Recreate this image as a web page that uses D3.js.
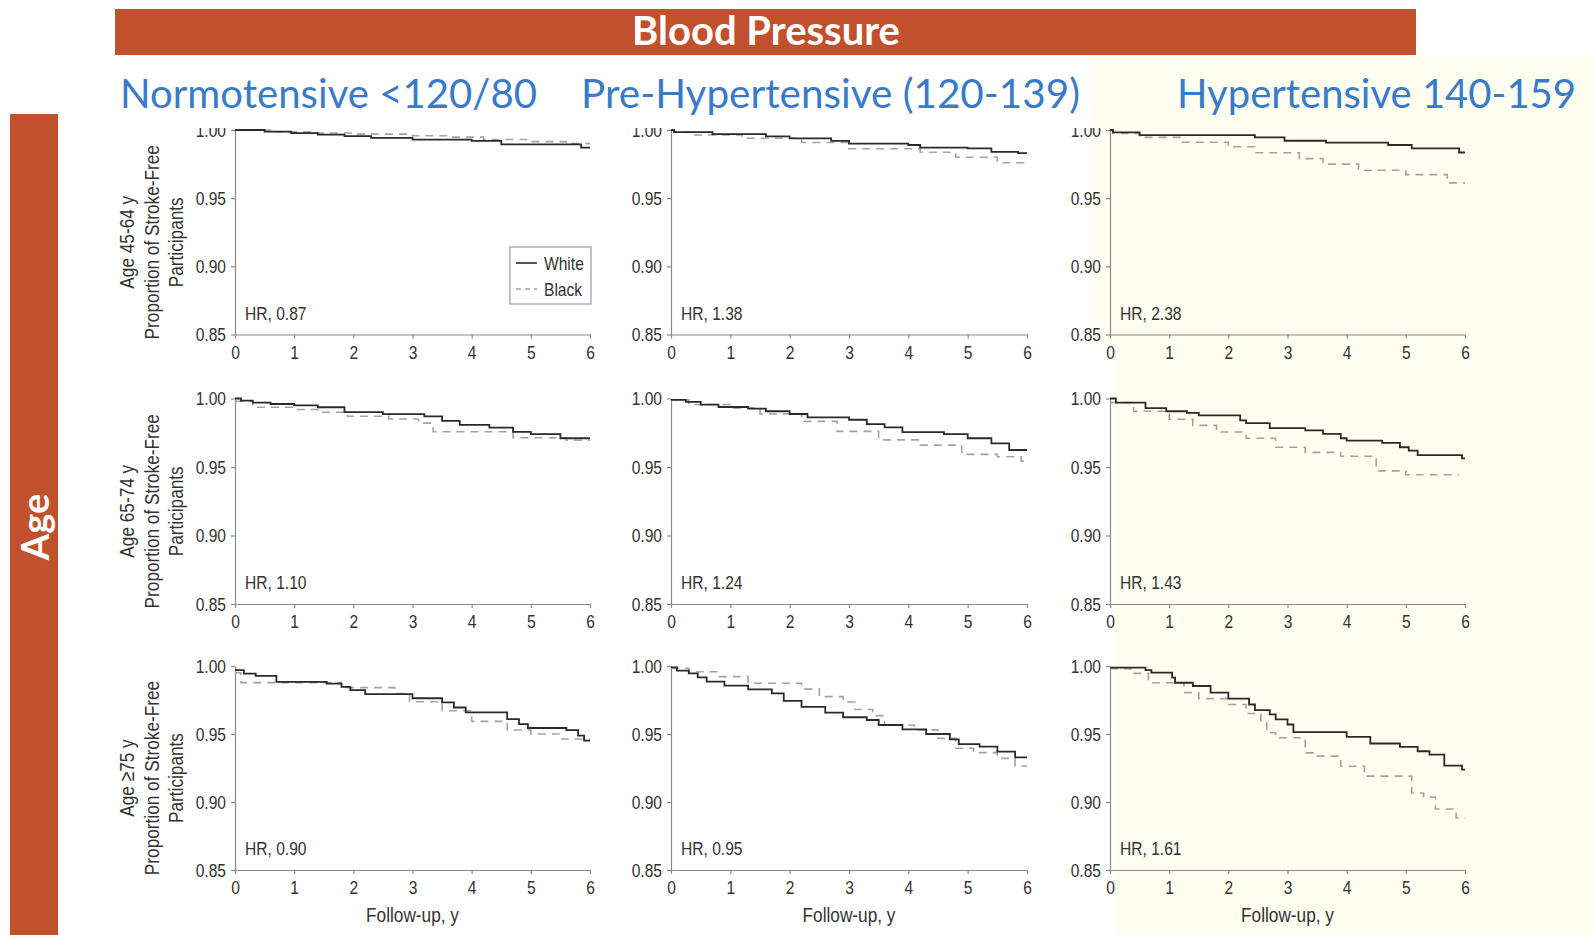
<!DOCTYPE html>
<html><head><meta charset="utf-8">
<script src="https://cdn.jsdelivr.net/npm/d3@7"></script>
<style>body{margin:0;background:#fff}svg{display:block}</style>
</head><body>
<svg id="c" width="1594" height="935"></svg>
<script>
// ---------- data ----------
const bannerTitle = "Blood Pressure";
const sideTitle = "Age";
const columns = ["Normotensive <120/80", "Pre-Hypertensive (120-139)", "Hypertensive 140-159"];
const rowLabels = ["Age 45-64 y", "Age 65-74 y", "Age \u226575 y"];
const yTitleLines = ["Proportion of Stroke-Free", "Participants"];
const xTitle = "Follow-up, y";
const hrLabels = [["HR, 0.87", "HR, 1.38", "HR, 2.38"],
                  ["HR, 1.10", "HR, 1.24", "HR, 1.43"],
                  ["HR, 0.90", "HR, 0.95", "HR, 1.61"]];
const seriesNames = ["White", "Black"];
const yTicks = [0.85, 0.90, 0.95, 1.00];
const xTicks = [0, 1, 2, 3, 4, 5, 6];

// Kaplan-Meier steps: [follow-up year, proportion stroke-free]
const white_45_norm = [[0,1.0],[0.5,0.9988],[0.95,0.9977],[1.4,0.9966],[1.85,0.9955],[2.3,0.9942],[3.0,0.993],[4.0,0.992],[4.5,0.9895],[5.85,0.987],[6,0.987]];
const black_45_norm = [[0,1.0],[0.6,0.9986],[1.3,0.9978],[2.0,0.997],[3.0,0.9958],[3.6,0.9948],[4.2,0.993],[5.0,0.9915],[5.6,0.990],[6,0.990]];
const white_45_pre = [[0,1.0],[0.05,0.9985],[0.7,0.997],[1.6,0.9953],[2.0,0.9938],[2.7,0.992],[3.0,0.990],[4.0,0.989],[4.2,0.987],[5.0,0.9865],[5.4,0.984],[5.85,0.983],[6,0.983]];
const black_45_pre = [[0,1.0],[0.05,0.9985],[0.35,0.9963],[1.2,0.994],[2.2,0.9908],[3.0,0.9862],[4.2,0.9837],[4.8,0.980],[5.5,0.976],[6,0.976]];
const white_45_hyp = [[0,1.0],[0.05,0.9983],[0.5,0.9963],[2.45,0.9946],[2.95,0.9921],[3.65,0.9907],[4.7,0.989],[5.1,0.9865],[5.9,0.9835],[6,0.9835]];
const black_45_hyp = [[0,1.0],[0.05,0.9975],[0.5,0.9946],[1.2,0.991],[2.0,0.9877],[2.45,0.9833],[3.2,0.979],[3.6,0.975],[4.2,0.9705],[5.0,0.9673],[5.7,0.9612],[6,0.9612]];
const white_65_norm = [[0,1.0],[0.1,0.9985],[0.3,0.997],[0.6,0.996],[1.0,0.995],[1.4,0.9936],[1.85,0.990],[2.5,0.9886],[3.2,0.987],[3.5,0.9837],[3.8,0.9807],[4.3,0.9787],[4.7,0.9757],[5.0,0.974],[5.5,0.971],[6,0.971]];
const black_65_norm = [[0,0.998],[0.3,0.9936],[1.0,0.992],[1.4,0.990],[1.9,0.987],[2.6,0.985],[3.1,0.982],[3.35,0.9757],[4.7,0.9713],[5.6,0.9695],[6,0.9695]];
const white_65_pre = [[0,0.999],[0.25,0.9975],[0.5,0.9956],[0.8,0.9938],[1.3,0.9926],[1.6,0.9907],[2.0,0.9887],[2.3,0.9862],[3.0,0.9845],[3.3,0.9813],[3.6,0.9789],[3.9,0.9755],[4.6,0.974],[5.0,0.971],[5.4,0.9673],[5.7,0.9624],[6,0.9624]];
const black_65_pre = [[0,0.999],[0.3,0.9956],[1.0,0.993],[1.5,0.9887],[2.2,0.9833],[2.8,0.976],[3.5,0.9698],[4.2,0.966],[4.9,0.9592],[5.5,0.9575],[5.9,0.9543],[6,0.9543]];
const white_65_hyp = [[0,1.0],[0.1,0.997],[0.6,0.993],[0.95,0.9907],[1.3,0.9895],[1.5,0.9877],[2.2,0.984],[2.3,0.982],[2.7,0.9784],[3.3,0.9767],[3.6,0.9742],[3.9,0.971],[4.0,0.9693],[4.6,0.9676],[4.9,0.9644],[5.05,0.962],[5.2,0.9587],[5.95,0.9563],[6,0.9563]];
const black_65_hyp = [[0,0.997],[0.4,0.9907],[1.0,0.9848],[1.4,0.9804],[1.8,0.9755],[2.3,0.971],[2.8,0.9644],[3.3,0.9607],[3.9,0.9578],[4.5,0.9472],[5.0,0.9443],[5.9,0.9443]];
const white_75_norm = [[0,0.997],[0.15,0.9944],[0.35,0.9927],[0.7,0.9883],[1.55,0.9871],[1.8,0.9846],[1.95,0.9822],[2.2,0.9793],[3.0,0.9763],[3.5,0.9732],[3.7,0.9695],[3.9,0.9659],[4.6,0.961],[4.8,0.9573],[4.95,0.9544],[5.6,0.9529],[5.8,0.9488],[5.9,0.9451],[6,0.9451]];
const black_75_norm = [[0,0.995],[0.1,0.9878],[1.8,0.9841],[2.7,0.9798],[2.95,0.9737],[3.5,0.9671],[4.0,0.9593],[4.6,0.9529],[5.0,0.950],[5.5,0.9463],[6,0.9463]];
const white_75_pre = [[0,0.999],[0.1,0.9966],[0.3,0.9946],[0.45,0.9917],[0.6,0.9885],[0.9,0.9855],[1.3,0.9828],[1.7,0.9799],[1.9,0.9743],[2.2,0.970],[2.6,0.9657],[2.9,0.9623],[3.3,0.9603],[3.5,0.9566],[3.9,0.9534],[4.3,0.950],[4.7,0.9461],[4.85,0.9426],[5.2,0.9407],[5.5,0.937],[5.8,0.9328],[6,0.9328]];
const black_75_pre = [[0,0.9983],[0.3,0.9958],[0.8,0.9922],[1.3,0.9873],[2.2,0.983],[2.5,0.9775],[2.9,0.9735],[3.1,0.968],[3.4,0.9635],[3.6,0.9566],[4.1,0.953],[4.5,0.9468],[4.8,0.9395],[5.1,0.9363],[5.5,0.9321],[5.8,0.9265],[6,0.9265]];
const white_75_hyp = [[0,0.9988],[0.6,0.997],[0.7,0.9951],[1.05,0.9914],[1.1,0.9877],[1.4,0.9853],[1.7,0.9804],[2.0,0.976],[2.35,0.9717],[2.45,0.9676],[2.7,0.9644],[2.8,0.9607],[3.0,0.957],[3.1,0.9514],[4.0,0.9479],[4.4,0.943],[4.9,0.9405],[5.2,0.9373],[5.4,0.9349],[5.65,0.9268],[5.95,0.9238],[6,0.9238]];
const black_75_hyp = [[0,0.998],[0.35,0.9946],[0.65,0.9877],[1.25,0.9804],[1.5,0.976],[2.0,0.9717],[2.3,0.9651],[2.55,0.9582],[2.65,0.9509],[2.8,0.9472],[3.3,0.9361],[3.5,0.9337],[3.9,0.9263],[4.3,0.919],[5.1,0.9066],[5.3,0.9037],[5.5,0.8948],[5.85,0.8882],[6,0.8882]];

const whiteSeries = [[white_45_norm, white_45_pre, white_45_hyp],
                     [white_65_norm, white_65_pre, white_65_hyp],
                     [white_75_norm, white_75_pre, white_75_hyp]];
const blackSeries = [[black_45_norm, black_45_pre, black_45_hyp],
                     [black_65_norm, black_65_pre, black_65_hyp],
                     [black_75_norm, black_75_pre, black_75_hyp]];

// ---------- layout ----------
const colX = [[235, 590], [671, 1027], [1110, 1465]];
const rowY = [[130, 334.5], [398.5, 604], [666, 870]];
const ORANGE = "#C1512C", BLUE = "#3A7BC8", CREAM = "#FDFDF0";
const AX = "'Liberation Sans',Arial,sans-serif";
const HEAD = "Lato,'Open Sans',sans-serif";
const NARROW = 0.82;

// condense a text selection horizontally (emulates a narrow face)
function condense(sel) {
  sel.each(function () {
    const len = this.getComputedTextLength();
    d3.select(this).attr("textLength", len * NARROW).attr("lengthAdjust", "spacingAndGlyphs");
  });
}

const svg = d3.select("#c");
svg.append("rect").attr("width", 1594).attr("height", 935).attr("fill", "#fff");
svg.append("path").attr("fill", CREAM).attr("d", "M1090,57H1594V935H1114V345H1090Z");

const stepLine = (x, y) => d3.line().x(d => x(d[0])).y(d => y(d[1])).curve(d3.curveStepAfter);

for (let r = 0; r < 3; r++) {
  for (let c = 0; c < 3; c++) {
    const x = d3.scaleLinear().domain([0, 6]).range(colX[c]);
    const y = d3.scaleLinear().domain([0.85, 1.0]).range([rowY[r][1], rowY[r][0]]);
    const g = svg.append("g");

    const ya = g.append("g").attr("transform", `translate(${colX[c][0]},0)`)
      .call(d3.axisLeft(y).tickValues(yTicks).tickFormat(d3.format(".2f")).tickSize(4).tickSizeOuter(0).tickPadding(5));
    const xa = g.append("g").attr("transform", `translate(0,${rowY[r][1]})`)
      .call(d3.axisBottom(x).tickValues(xTicks).tickFormat(d3.format("d")).tickSize(4).tickSizeOuter(0).tickPadding(7));
    [ya, xa].forEach(a => {
      a.select(".domain").attr("stroke", "#8a8a8a").attr("stroke-width", 1.2);
      a.selectAll(".tick line").attr("stroke", "#8a8a8a").attr("stroke-width", 1.2);
      a.selectAll(".tick text").attr("fill", "#333").style("font-family", AX).style("font-size", "19px");
      condense(a.selectAll(".tick text"));
    });

    g.append("path").datum(blackSeries[r][c]).attr("d", stepLine(x, y))
      .attr("fill", "none").attr("stroke", "#a3a3a3").attr("stroke-width", 1.6).attr("stroke-dasharray", "8,6");
    g.append("path").datum(whiteSeries[r][c]).attr("d", stepLine(x, y))
      .attr("fill", "none").attr("stroke", "#2a2a2a").attr("stroke-width", 1.8);

    g.append("text").attr("x", colX[c][0] + 10).attr("y", rowY[r][1] - 15)
      .attr("fill", "#333").style("font-family", AX).style("font-size", "19px").text(hrLabels[r][c])
      .call(condense);

    if (c === 0) {
      const cy = (rowY[r][0] + rowY[r][1]) / 2 + 10;
      const lines = [rowLabels[r]].concat(yTitleLines);
      const lx = [126, 151.5, 175];
      lines.forEach((t, i) => {
        svg.append("text").attr("transform", `translate(${lx[i]},${cy}) rotate(-90)`)
          .attr("text-anchor", "middle").attr("dominant-baseline", "central")
          .attr("fill", "#333").style("font-family", AX).style("font-size", "21px").text(t)
          .call(condense);
      });
    }
    if (r === 2) {
      svg.append("text").attr("x", (colX[c][0] + colX[c][1]) / 2).attr("y", 922)
        .attr("text-anchor", "middle").attr("fill", "#333")
        .style("font-family", AX).style("font-size", "21px").text(xTitle).call(condense);
    }
    if (r === 0 && c === 0) {
      const lg = svg.append("g").attr("transform", `translate(${colX[0][1] - 80},${rowY[0][0] + 117})`);
      lg.append("rect").attr("width", 81).attr("height", 57).attr("fill", "#fff").attr("stroke", "#999").attr("stroke-width", 1.2);
      seriesNames.forEach((n, i) => {
        const yy = 16 + i * 26;
        lg.append("line").attr("x1", 6).attr("x2", 27).attr("y1", yy).attr("y2", yy)
          .attr("stroke", i === 0 ? "#2a2a2a" : "#a3a3a3").attr("stroke-width", 1.6)
          .attr("stroke-dasharray", i === 0 ? null : "5,4");
        lg.append("text").attr("x", 34).attr("y", yy).attr("dominant-baseline", "central")
          .attr("fill", "#333").style("font-family", AX).style("font-size", "19px").text(n).call(condense);
      });
    }
  }
}

// header area covering top of first row (as in original slide)
svg.append("rect").attr("x", 62).attr("y", 56).attr("width", 1028).attr("height", 72).attr("fill", "#fff");
svg.append("rect").attr("x", 1090).attr("y", 56).attr("width", 504).attr("height", 72).attr("fill", CREAM);

// banner
svg.append("rect").attr("x", 115).attr("y", 9).attr("width", 1301).attr("height", 46).attr("fill", ORANGE);
svg.append("text").attr("x", 632).attr("y", 45).attr("fill", "#fff")
  .attr("textLength", 268).attr("lengthAdjust", "spacingAndGlyphs")
  .style("font-family", HEAD).style("font-weight", 700).style("font-size", "40px").text(bannerTitle);

// column headers
const headX = [[120, 417], [581, 499], [1177, 399]];
columns.forEach((t, i) => {
  svg.append("text").attr("x", headX[i][0]).attr("y", 108).attr("fill", BLUE)
    .attr("textLength", headX[i][1]).attr("lengthAdjust", "spacingAndGlyphs")
    .style("font-family", HEAD).style("font-size", "40px").text(t);
});

// side bar
svg.append("rect").attr("x", 10).attr("y", 114).attr("width", 48).attr("height", 821).attr("fill", ORANGE);
svg.append("text").attr("transform", "translate(34,527) rotate(-90)")
  .attr("text-anchor", "middle").attr("dominant-baseline", "central").attr("fill", "#fff")
  .style("font-family", HEAD).style("font-weight", 700).style("font-size", "38px").text(sideTitle);
</script>
</body></html>
